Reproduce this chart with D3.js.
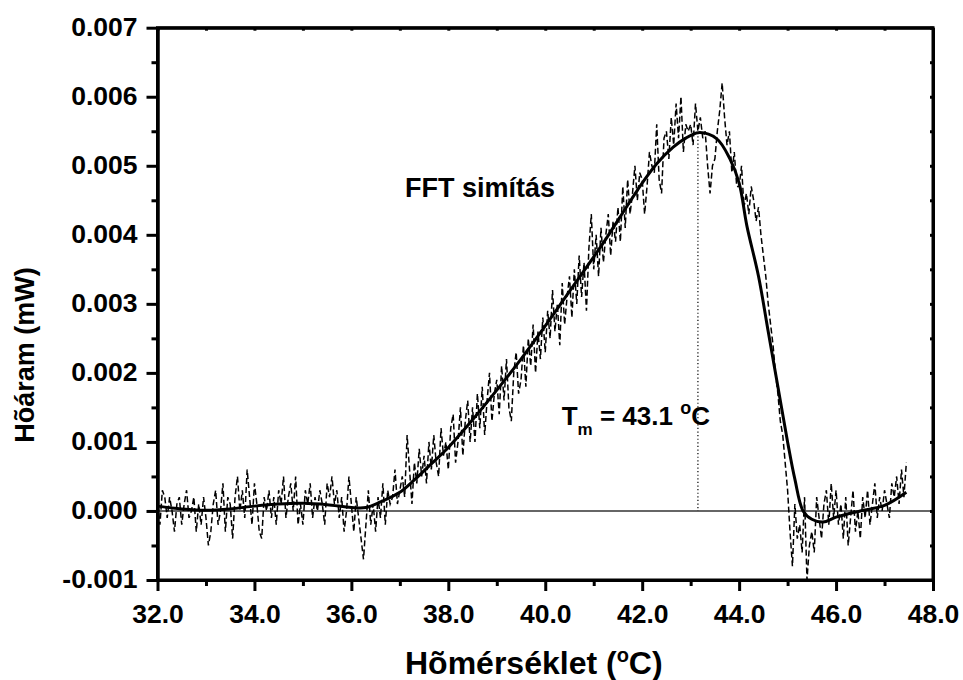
<!DOCTYPE html>
<html>
<head>
<meta charset="utf-8">
<script src="https://cdn.jsdelivr.net/npm/d3@7"></script>
<style>
  html, body { margin: 0; padding: 0; background: #fff; }
  svg { display: block; }
  text { font-family: "Liberation Sans", Arial, sans-serif; font-weight: bold; fill: #000; }
</style>
</head>
<body>
<svg id="chart" width="963" height="680"></svg>
<script>
// ---------------- data ----------------
// raw DSC heat flow, sampled every 0.05 °C from 32.00 °C (values in 1e-4 mW)
const rawStartT = 32.0;
const rawStepT = 0.05;
const rawHeatE4 = [
  1, -2, 3, 2, -1, 2, 0, -3, 1, 2,
  -2, 1, 3, -1, 0, 2, -3, 1, -2, 2,
  -1, -5, -3, 1, 3, -2, 0, 4, -3, 2,
  1, -4, 2, 5, 0, 3, -1, 6, 2, -2,
  4, 1, -3, -4, 2, 0, 3, -1, 2, -2,
  3, 1, 5, -1, 2, 4, 0, 5, -2, 1,
  -2, 3, 1, 4, -1, 2, 0, 3, 1, -2,
  4, 2, 5, 1, 3, -1, 2, -3, 0, 5,
  1, -3, 2, -1, -4, -7, -2, 3, -2, 1,
  -3, 2, -1, 4, -2, 3, 1, 2, 6, 1,
  3, 5, 2, 11, 6, 1, 7, 4, 9, 5,
  8, 4, 10, 6, 11, 7, 5, 12, 8, 10,
  6, 12, 14, 7, 10, 15, 8, 13, 16, 10,
  15, 10, 17, 12, 18, 11, 16, 20, 13, 17,
  19, 14, 21, 16, 22, 15, 13, 20, 23, 17,
  19, 24, 18, 25, 21, 27, 20, 26, 22, 28,
  23, 29, 25, 32, 26, 30, 24, 33, 27, 31,
  34, 28, 35, 30, 37, 31, 36, 29, 38, 43,
  35, 40, 34, 41, 36, 40, 43, 37, 42, 39,
  44, 39, 47, 41, 48, 43, 46, 50, 45, 49,
  48, 43, 47, 52, 50, 49, 56, 48, 46, 54,
  55, 51, 57, 53, 59, 54, 60, 52, 56, 55,
  56, 53, 59, 55, 57, 54, 55, 50, 46, 50,
  51, 55, 58, 62, 57, 53, 55, 49, 52, 47,
  47, 50, 44, 46, 43, 47, 45, 42, 44, 40,
  37, 34, 30, 27, 24, 20, 17, 13, 11, 7,
  3, -3, -8, 1, -4, -2, -6, 2, -10, -5,
  -3, -6, 2, -1, -4, 1, 3, -2, 4, -1,
  3, -2, 1, -4, 2, -5, -1, 3, -3, 0,
  -4, 2, -1, 3, -2, 1, 4, -1, 2, 0,
  3, 1, -1, 4, 2, 5, 1, 6, 2, 7
];

// FFT-smoothed curve (temperature °C, heat flow in 1e-4 mW)
const smoothT = [32.0, 32.5, 33.0, 33.5, 34.0, 34.5, 35.0, 35.5, 36.0, 36.3, 36.6, 37.0, 37.3, 37.6,
  38.0, 38.5, 39.0, 39.5, 40.0, 40.5, 41.0, 41.27, 41.6, 42.0, 42.3, 42.64, 42.9, 43.16, 43.54,
  43.81, 44.0, 44.16, 44.4, 44.6, 44.8, 45.0, 45.15, 45.32, 45.5, 45.73, 46.0, 46.5, 47.0, 47.45];
const smoothHeatE4 = [0.7, 0.3, 0.1, 0.3, 0.7, 1.0, 1.1, 0.9, 0.5, 0.5, 1.3, 2.7, 4.5, 6.5,
  9.2, 13.2, 17.5, 22.0, 26.8, 31.8, 36.8, 39.6, 43.2, 47.5, 50.3, 52.7, 54.0, 54.8, 53.9,
  51.0, 47.5, 41.3, 34.0, 26.0, 18.0, 10.0, 4.6, 0.0, -1.2, -1.6, -0.9, 0.0, 0.8, 2.7];

const xMajorTicks = [32, 34, 36, 38, 40, 42, 44, 46, 48];
const xMinorTicks = [33, 35, 37, 39, 41, 43, 45, 47];
const yMajorTicks = [-0.001, 0, 0.001, 0.002, 0.003, 0.004, 0.005, 0.006, 0.007];
const yMinorTicks = [-0.0005, 0.0005, 0.0015, 0.0025, 0.0035, 0.0045, 0.0055, 0.0065];

const peakT = 43.15;
const peakHeat = 0.00548;
const E4 = 1e-4;

// ---------------- layout ----------------
const svg = d3.select("#chart");
const L = 157.5, R = 933, T = 27.7, B = 580;
const x = d3.scaleLinear().domain([32, 48]).range([L, R]);
const y = d3.scaleLinear().domain([-0.001, 0.007]).range([B, T]);

const AX_W = 3;

// zero line
svg.append("line")
  .attr("x1", L).attr("x2", R).attr("y1", y(0)).attr("y2", y(0))
  .attr("stroke", "#333").attr("stroke-width", 1.6);

// raw data (dashed)
const rawPts = rawHeatE4.map((v, i) => [rawStartT + i * rawStepT, v * E4]);
svg.append("path")
  .datum(rawPts)
  .attr("d", d3.line().x(d => x(d[0])).y(d => y(d[1])))
  .attr("fill", "none").attr("stroke", "#000")
  .attr("stroke-width", 1.5)
  .attr("stroke-dasharray", "6,3");

// smoothed curve
const smPts = smoothT.map((t, i) => [t, smoothHeatE4[i] * E4]);
svg.append("path")
  .datum(smPts)
  .attr("d", d3.line().curve(d3.curveCatmullRom.alpha(0.5)).x(d => x(d[0])).y(d => y(d[1])))
  .attr("fill", "none").attr("stroke", "#000")
  .attr("stroke-width", 3);

// dotted peak line
svg.append("line")
  .attr("x1", x(peakT)).attr("x2", x(peakT))
  .attr("y1", y(peakHeat)).attr("y2", y(0))
  .attr("stroke", "#000").attr("stroke-width", 1.2)
  .attr("stroke-dasharray", "1.2,2.4");

// ---------------- axes ----------------
function styleAxis(g) {
  g.selectAll(".domain").attr("stroke", "#000").attr("stroke-width", AX_W);
  g.selectAll(".tick line").attr("stroke", "#000").attr("stroke-width", AX_W);
  g.selectAll(".tick text")
    .style("font-family", '"Liberation Sans", Arial, sans-serif')
    .style("font-weight", "bold").style("font-size", "26.5px").attr("fill", "#000");
}
const fmtY = v => d3.format(".3f")(v).replace("−", "-");

// bottom
const gxMinor = svg.append("g").attr("transform", `translate(0,${B})`)
  .call(d3.axisBottom(x).tickValues(xMinorTicks).tickSize(6).tickSizeOuter(0).tickFormat(""));
styleAxis(gxMinor);
const gx = svg.append("g").attr("transform", `translate(0,${B})`)
  .call(d3.axisBottom(x).tickValues(xMajorTicks).tickSize(11).tickSizeOuter(0).tickFormat(d3.format(".1f")));
styleAxis(gx);
gx.selectAll(".tick text").attr("y", 0).attr("dy", 0)
  .attr("transform", "translate(0,42.7)");

// left
const gyMinor = svg.append("g").attr("transform", `translate(${L},0)`)
  .call(d3.axisLeft(y).tickValues(yMinorTicks).tickSize(6).tickSizeOuter(0).tickFormat(""));
styleAxis(gyMinor);
const gy = svg.append("g").attr("transform", `translate(${L},0)`)
  .call(d3.axisLeft(y).tickValues(yMajorTicks).tickSize(11).tickSizeOuter(0).tickFormat(fmtY));
styleAxis(gy);
gy.selectAll(".tick text").attr("x", -20).attr("dy", 0).attr("y", 7.5);

// top & right frame with small inward ticks
const gTop = svg.append("g").attr("transform", `translate(0,${T})`)
  .call(d3.axisTop(x).tickValues(xMajorTicks.concat(xMinorTicks)).tickSize(-3).tickSizeOuter(0).tickFormat(""));
styleAxis(gTop);
const gRight = svg.append("g").attr("transform", `translate(${R},0)`)
  .call(d3.axisRight(y).tickValues(yMajorTicks.concat(yMinorTicks)).tickSize(-3).tickSizeOuter(0).tickFormat(""));
styleAxis(gRight);

// square the corners
svg.append("rect").attr("x", L).attr("y", T).attr("width", R - L).attr("height", B - T)
  .attr("fill", "none").attr("stroke", "#000").attr("stroke-width", AX_W);

// ---------------- titles ----------------
const xt = svg.append("text").attr("x", 405).attr("y", 674).style("font-size", "32px");
xt.append("tspan").text("Hõmérséklet (");
xt.append("tspan").attr("dy", -12).style("font-size", "20px").text("o");
xt.append("tspan").attr("dy", 12).text("C)");

svg.append("text")
  .attr("transform", `translate(33.5,355) rotate(-90)`)
  .attr("text-anchor", "middle")
  .style("font-size", "27px")
  .text("Hõáram (mW)");

// annotations
svg.append("text").attr("x", 405).attr("y", 196.7).style("font-size", "27px").text("FFT simítás");

const tm = svg.append("text").attr("x", 561.7).attr("y", 425).style("font-size", "26px");
tm.append("tspan").text("T");
tm.append("tspan").attr("dy", 10).style("font-size", "17px").text("m");
tm.append("tspan").attr("dy", -10).text(" = 43.1 ");
tm.append("tspan").attr("dy", -11).style("font-size", "18px").text("o");
tm.append("tspan").attr("dy", 11).text("C");
</script>
</body>
</html>
